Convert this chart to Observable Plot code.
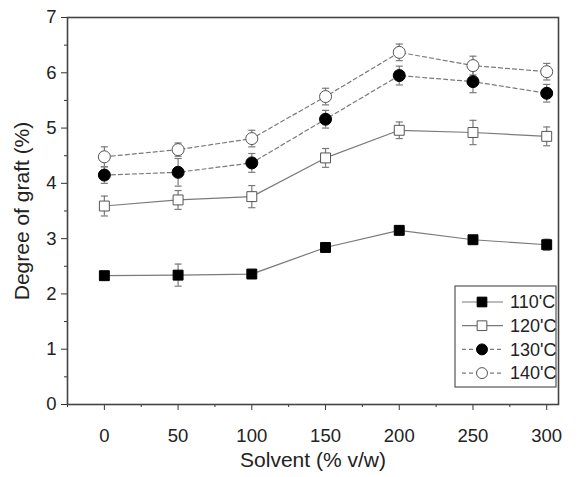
<!DOCTYPE html>
<html>
<head>
<meta charset="utf-8">
<script src="https://cdn.jsdelivr.net/npm/d3@7"></script>
<script src="https://cdn.jsdelivr.net/npm/@observablehq/plot@0.6"></script>
<style>
  html, body { margin: 0; padding: 0; background: #fff; }
  #chart { width: 586px; height: 477px; }
</style>
</head>
<body>
<div id="chart"></div>
<script>
// Solvent loading (% v/w) on the x axis
const solvent = [0, 50, 100, 150, 200, 250, 300];
const xMinorTicks = [-25, 25, 75, 125, 175, 225, 275];
const yTicks = [0, 1, 2, 3, 4, 5, 6, 7];
const yMinorTicks = [0.5, 1.5, 2.5, 3.5, 4.5, 5.5, 6.5];

// Series names (reaction temperature)
const seriesNames = ["110'C", "120'C", "130'C", "140'C"];

// Degree of graft (%) for each temperature
const graft110 = [2.33, 2.34, 2.36, 2.84, 3.15, 2.98, 2.89];
const graft120 = [3.59, 3.70, 3.76, 4.46, 4.96, 4.92, 4.85];
const graft130 = [4.15, 4.20, 4.37, 5.16, 5.95, 5.84, 5.63];
const graft140 = [4.48, 4.61, 4.81, 5.57, 6.37, 6.13, 6.02];

// Standard deviations (error bars)
const err110 = [0.08, 0.20, 0.06, 0.07, 0.08, 0.05, 0.10];
const err120 = [0.18, 0.17, 0.20, 0.17, 0.15, 0.22, 0.17];
const err130 = [0.15, 0.25, 0.17, 0.16, 0.17, 0.20, 0.16];
const err140 = [0.18, 0.12, 0.15, 0.15, 0.15, 0.17, 0.15];

const graftValues = [graft110, graft120, graft130, graft140];
const errValues = [err110, err120, err130, err140];

// marker and line style for each series
const styles = [
  {symbol: "square", fill: "black", dashed: false},
  {symbol: "square", fill: "white", dashed: false},
  {symbol: "circle", fill: "black", dashed: true},
  {symbol: "circle", fill: "white", dashed: true}
];

const rows = seriesNames.flatMap((name, i) =>
  solvent.map((s, j) => ({series: name, idx: i, solvent: s, graft: graftValues[i][j], err: errValues[i][j]}))
);

const lineColor = "#7a7a7a";
const capSymbol = {
  draw(ctx, size) {
    const w = Math.sqrt(size);
    ctx.moveTo(-w / 2, 0);
    ctx.lineTo(w / 2, 0);
  }
};

const marks = [
  Plot.axisX({ticks: solvent, tickSize: 6, tickPadding: 18, label: null, fontSize: 18.5, stroke: "#333"}),
  Plot.axisX({ticks: xMinorTicks, tickSize: 3, tickFormat: () => "", label: null, stroke: "#333"}),
  Plot.axisY({ticks: yTicks, tickSize: 6, tickPadding: 5, tickFormat: d3.format("d"), label: null, fontSize: 18.5, stroke: "#333"}),
  Plot.axisY({ticks: yMinorTicks, tickSize: 3, tickFormat: () => "", label: null, stroke: "#333"}),
  Plot.frame({stroke: "#444", strokeWidth: 1.6}),
  Plot.text(["Solvent (% v/w)"], {frameAnchor: "bottom", dy: 62, fontSize: 21, fill: "#222"}),
  Plot.text(["Degree of graft (%)"], {frameAnchor: "left", dx: -45, rotate: -90, textAnchor: "middle", fontSize: 21, fill: "#222"})
];

styles.forEach((st, i) => {
  const data = rows.filter(d => d.idx === i);
  marks.push(
    Plot.line(data, {x: "solvent", y: "graft", stroke: lineColor, strokeWidth: 1.2,
      strokeDasharray: st.dashed ? "4,3" : null})
  );
});

styles.forEach((st, i) => {
  const data = rows.filter(d => d.idx === i);
  marks.push(
    Plot.ruleX(data, {x: "solvent", y1: d => d.graft - d.err, y2: d => d.graft + d.err, stroke: lineColor, strokeWidth: 1.2}),
    Plot.dot(data, {x: "solvent", y: d => d.graft + d.err, symbol: capSymbol, r: 4, stroke: lineColor, strokeWidth: 1.2}),
    Plot.dot(data, {x: "solvent", y: d => d.graft - d.err, symbol: capSymbol, r: 4, stroke: lineColor, strokeWidth: 1.2})
  );
});

styles.forEach((st, i) => {
  const data = rows.filter(d => d.idx === i);
  marks.push(
    Plot.dot(data, {x: "solvent", y: "graft", symbol: st.symbol, r: st.symbol === "square" ? 5.6 : 6,
      fill: st.fill, stroke: st.fill === "black" ? "black" : "#555", strokeWidth: 1})
  );
});

const chart = Plot.plot({
  width: 586,
  height: 477,
  marginLeft: 67,
  marginRight: 28,
  marginTop: 17,
  marginBottom: 73,
  x: {domain: [-25, 308]},
  y: {domain: [0, 7]},
  style: {fontFamily: "'Liberation Sans', Arial, sans-serif", color: "#222", background: "white"},
  marks
});

// Legend box inside the plot area, lower right
const svg = d3.select(chart);
const lg = svg.append("g").attr("transform", "translate(455,286)");
lg.append("rect").attr("width", 101).attr("height", 101)
  .attr("fill", "white").attr("stroke", "#555").attr("stroke-width", 1.2);
const symbolGen = d3.symbol().size(Math.PI * 30);
seriesNames.forEach((name, i) => {
  const st = styles[i];
  const y = 16 + i * 23.7;
  lg.append("line").attr("x1", 7).attr("x2", 48).attr("y1", y).attr("y2", y)
    .attr("stroke", lineColor).attr("stroke-width", 1.2)
    .attr("stroke-dasharray", st.dashed ? "4,3" : null);
  lg.append("path")
    .attr("d", symbolGen.type(st.symbol === "square" ? d3.symbolSquare : d3.symbolCircle)())
    .attr("transform", `translate(27,${y})`)
    .attr("fill", st.fill).attr("stroke", st.fill === "black" ? "black" : "#555");
  lg.append("text").attr("x", 55).attr("y", y).attr("dy", "0.35em")
    .attr("text-anchor", "start")
    .attr("font-size", 18).attr("fill", "#222").text(name);
});

document.getElementById("chart").appendChild(chart);
</script>
</body>
</html>
